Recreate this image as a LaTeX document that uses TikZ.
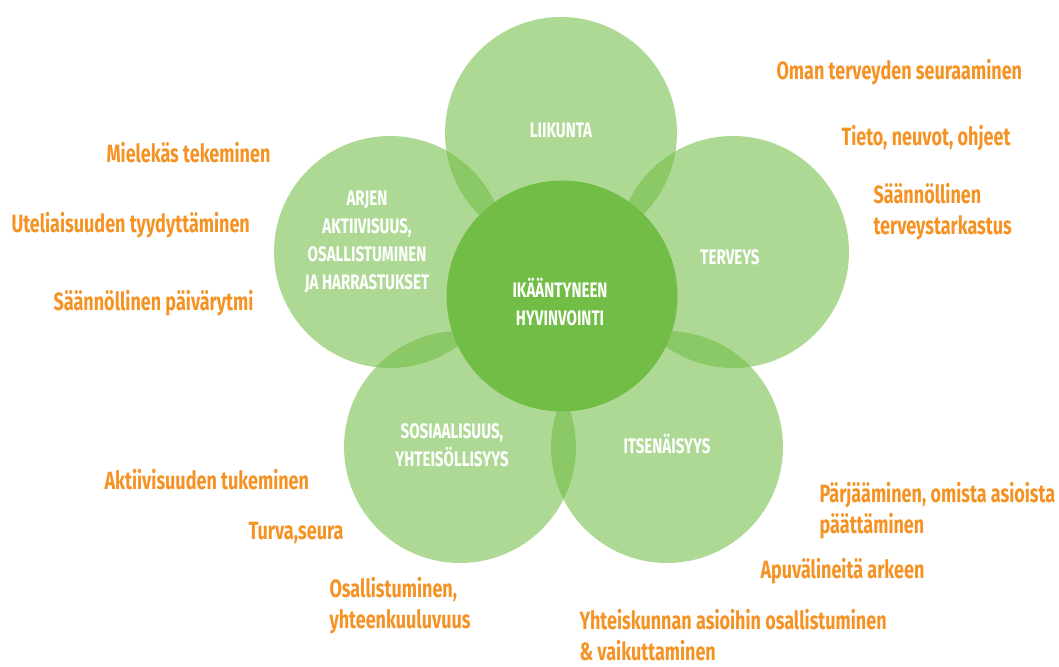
\documentclass[tikz,border=0pt]{standalone}
\usepackage{fontspec}
\setmainfont{Fira Sans}[FakeStretch=0.72]
\definecolor{leafgreen}{RGB}{113,189,69}
\definecolor{tipsorange}{RGB}{245,146,36}
\begin{document}
\begin{tikzpicture}[x=1pt, y=-1pt,
    petal/.style={circle, fill=leafgreen, fill opacity=0.57, minimum size=232pt, inner sep=0pt},
    core/.style={circle, fill=leafgreen, minimum size=231pt, inner sep=0pt},
    theme/.style={text=white, align=center, font=\fontsize{21}{28}\selectfont\bfseries},
    tip/.style={text=tipsorange, align=left, anchor=west, font=\fontsize{25}{31}\selectfont\bfseries}]

    \useasboundingbox (0,0) rectangle (1059,666);

    % the five petals and the centre
    \node[petal] (liikunta) at (561,133) {};
    \node[petal] (arki) at (390,252) {};
    \node[petal] (terveys) at (733,252) {};
    \node[petal] (sosiaalisuus) at (460,447) {};
    \node[petal] (itsenaisyys) at (667,447) {};
    \node[core] (hyvinvointi) at (562,296) {};

    % texts in the circles
    \node[theme] (tLiikunta) at (561,130) {LIIKUNTA};
    \node[theme] (tArki) at (367,242) {ARJEN\\AKTIIVISUUS,\\OSALLISTUMINEN\\JA HARRASTUKSET};
    \node[theme] (tTerveys) at (730,257) {TERVEYS};
    \node[theme] (tSosiaalisuus) at (452,445) {SOSIAALISUUS,\\YHTEISÖLLISYYS};
    \node[theme] (tItsenaisyys) at (667,444) {ITSENÄISYYS};
    \node[theme] (tHyvinvointi) at (560,302) {IKÄÄNTYNEEN\\HYVINVOINTI};

    % orange notes
    \node[tip] (oman) at (773,72) {Oman terveyden seuraaminen};
    \node[tip] (tieto) at (838,138) {Tieto, neuvot, ohjeet};
    \node[tip] (tarkastus) at (870,212) {Säännöllinen\\terveystarkastus};
    \node[tip] (mielekas) at (103,153) {Mielekäs tekeminen};
    \node[tip] (uteliaisuus) at (8,225) {Uteliaisuuden tyydyttäminen};
    \node[tip] (rytmi) at (50,303) {Säännöllinen päivärytmi};
    \node[tip] (tukeminen) at (101,480) {Aktiivisuuden tukeminen};
    \node[tip] (turva) at (245,533) {Turva,seura};
    \node[tip] (osallistuminen) at (326,606) {Osallistuminen,\\yhteenkuuluvuus};
    \node[tip] (parjaaminen) at (816,511) {Pärjääminen, omista asioista\\päättäminen};
    \node[tip] (apuvalineet) at (757,571) {Apuvälineitä arkeen};
    \node[tip] (yhteiskunta) at (576,635) {Yhteiskunnan asioihin osallistuminen\\\& vaikuttaminen};
\end{tikzpicture}
\end{document}
